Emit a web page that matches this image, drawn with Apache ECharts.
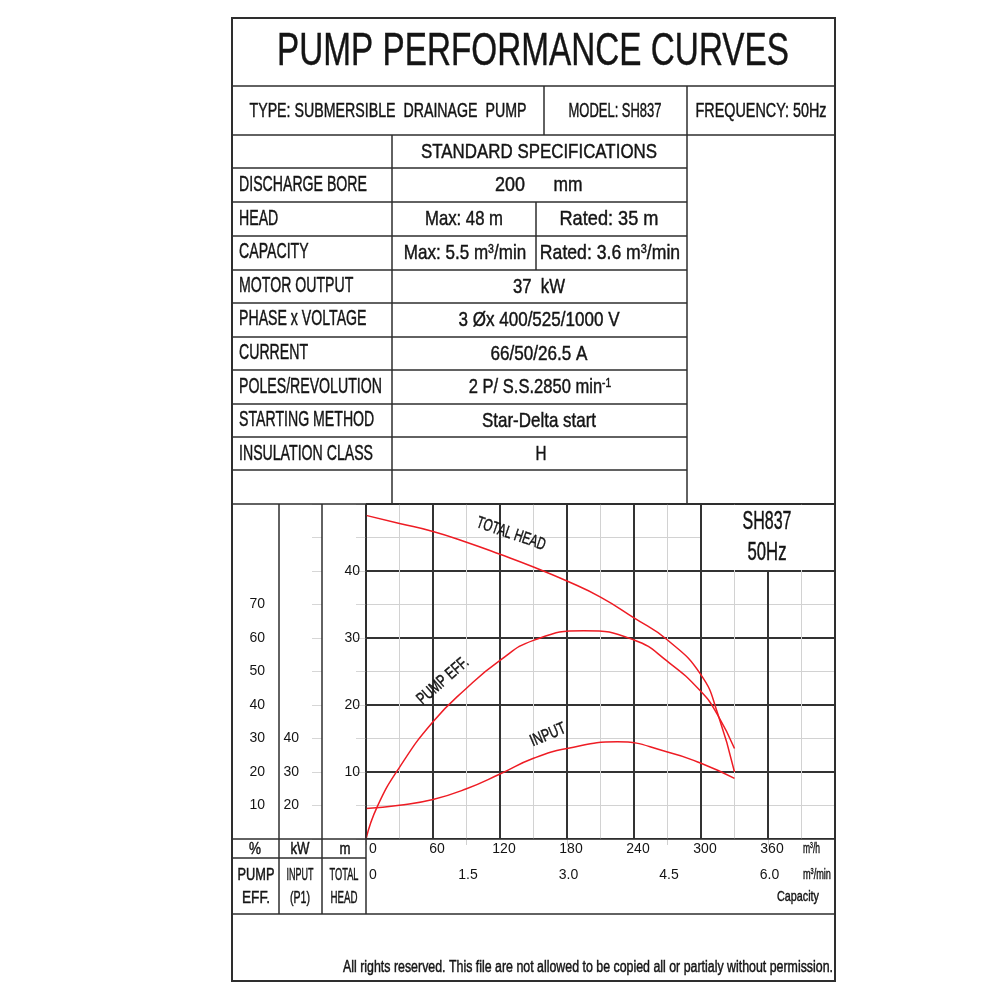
<!DOCTYPE html>
<html lang="en">
<head>
    <meta charset="UTF-8">
    <title>PUMP PERFORMANCE CURVES</title>
    <style>
        body{margin:0;background:#fff;}
        #main{width:1000px;height:1000px;}
    </style>
</head>
<body>
<div id="main"></div>
<script src="https://cdn.jsdelivr.net/npm/echarts@6/dist/echarts.min.js"></script>
<script>
    const myChart = echarts.init(document.getElementById('main'));

    /* curve data (flow in m3/h) */
    const headFlow   = [0, 30, 60, 90, 120, 150, 180, 210, 240, 270, 300, 315, 330];
    const totalHead  = [48.3, 47.1, 45.9, 44.3, 42.5, 40.6, 38.5, 36.1, 33.0, 29.7, 24.5, 18.7, 10.0]; // m
    const effFlow    = [0, 10, 30, 60, 90, 120, 150, 195, 240, 270, 300, 315, 330];
    const pumpEff    = [0, 9.6, 21.4, 35.0, 45.0, 53.3, 59.3, 62.2, 59.4, 53.0, 44.0, 37.0, 27.0];   // %
    const inputFlow  = [0, 30, 60, 90, 120, 150, 180, 225, 270, 300, 330];
    const inputPower = [19.1, 20.1, 21.8, 25.0, 29.4, 34.1, 37.0, 39.0, 36.0, 32.6, 28.1];           // kW

    /* tick labels that are printed */
    const flowTicks = [0, 60, 120, 180, 240, 300, 360];
    const capTicks  = ['0', '1.5', '3.0', '4.5', '6.0'];
    const headTicks = [10, 20, 30, 40];
    const effTicks  = [10, 20, 30, 40, 50, 60, 70];
    const kwTicks   = [20, 30, 40];

    /* spec table */
    const specLabels = ['DISCHARGE BORE', 'HEAD', 'CAPACITY', 'MOTOR OUTPUT', 'PHASE x VOLTAGE',
        'CURRENT', 'POLES/REVOLUTION', 'STARTING METHOD', 'INSULATION CLASS'];

    const FONT = '"Liberation Sans", Arial, sans-serif';
    const INK = '#141414';
    const RULE = '#2e2e2e';
    const RED = '#ee1c24';

    // narrow the Arial-like face to the condensed look of the sheet
    const ctx = document.createElement('canvas').getContext('2d');
    function fit(plain, size, width) {
        ctx.font = size + 'px "Liberation Sans"';
        return width / ctx.measureText(plain).width;
    }

    function line(x1, y1, x2, y2, w, c) {
        return {type: 'line', z: 100, silent: true,
            shape: {x1: x1, y1: y1, x2: x2, y2: y2},
            style: {stroke: c || RULE, lineWidth: w || 1.5}};
    }
    // o: {w: target width, plain: text to measure, rot, sx}
    function txt(text, x, y, size, align, o) {
        o = o || {};
        const plain = o.plain || text;
        const sx = o.sx || (o.w ? fit(plain, size, o.w) : 0.72);
        const base = {fontFamily: FONT, fill: INK, stroke: INK, lineWidth: 0.45};
        return {type: 'text', z: 110, silent: true, x: x, y: y, rotation: o.rot || 0, scaleX: sx,
            style: Object.assign({text: text, fontSize: size,
                textAlign: align || 'center', textVerticalAlign: 'middle',
                rich: {
                    n: Object.assign({fontSize: size}, base),
                    s: Object.assign({fontSize: Math.round(size * 0.6), verticalAlign: 'top'}, base)
                }}, base)};
    }

    const g = [];
    // outer frame and big rules
    g.push({type: 'rect', z: 99, silent: true, shape: {x: 232, y: 18, width: 603, height: 963},
        style: {fill: 'none', stroke: RULE, lineWidth: 2}});
    [86, 135, 504, 839, 914].forEach(y => g.push(line(232, y, 835, y)));
    g.push(line(544, 86, 544, 135), line(687, 86, 687, 135));
    // spec table rules
    [168, 202, 236, 270, 303, 337, 370, 404, 437, 470].forEach(y => g.push(line(232, y, 687, y)));
    g.push(line(392, 135, 392, 504), line(687, 135, 687, 504), line(536, 202, 536, 270));
    // chart side columns
    [279, 322, 366].forEach(x => g.push(line(x, 504, x, 914)));
    g.push(line(232, 858, 366, 858));
    // model box (covers grid)
    g.push({type: 'rect', z: 95, silent: true, shape: {x: 702, y: 505, width: 132, height: 65},
        style: {fill: '#fff'}});

    // header texts
    g.push(txt('PUMP PERFORMANCE CURVES', 533, 52, 46, 'center', {w: 512}));
    g.push(txt('TYPE: SUBMERSIBLE  DRAINAGE  PUMP', 388, 111, 20, 'center', {w: 277}));
    g.push(txt('MODEL: SH837', 615, 111, 20, 'center', {w: 93}));
    g.push(txt('FREQUENCY: 50Hz', 761, 111, 20, 'center', {w: 131}));
    g.push(txt('STANDARD SPECIFICATIONS', 539, 152, 21, 'center', {w: 236}));

    const labelScale = fit('DISCHARGE BORE', 22, 128);
    specLabels.forEach((s, i) => g.push(txt(s, 239, 185 + i * 33.6, 22, 'left', {sx: labelScale})));

    g.push(txt('200', 510, 185, 21, 'center', {w: 30}), txt('mm', 568, 185, 21, 'center', {w: 29}));
    g.push(txt('Max: 48 m', 464, 219, 21, 'center', {w: 78}));
    g.push(txt('Rated: 35 m', 609, 219, 21, 'center', {w: 99}));
    g.push(txt('{n|Max: 5.5 m}{s|3}{n|/min}', 465, 253, 21, 'center', {w: 126, plain: 'Max: 5.5 m3/min'}));
    g.push(txt('{n|Rated: 3.6 m}{s|3}{n|/min}', 610, 253, 21, 'center', {w: 144, plain: 'Rated: 3.6 m3/min'}));
    g.push(txt('37  kW', 539, 287, 21, 'center', {w: 52}));
    g.push(txt('3 Øx 400/525/1000 V', 539, 320, 21, 'center', {w: 161}));
    g.push(txt('66/50/26.5 A', 539, 354, 21, 'center', {w: 97}));
    g.push(txt('{n|2 P/ S.S.2850 min}{s|-1}', 540, 387, 21, 'center', {w: 148, plain: '2 P/ S.S.2850 min-1'}));
    g.push(txt('Star-Delta start', 539, 421, 21, 'center', {w: 114}));
    g.push(txt('H', 541, 454, 21, 'center', {w: 11}));

    // axis captions in the side columns
    g.push(txt('%', 255, 850, 16, 'center', {w: 12}));
    g.push(txt('kW', 300, 850, 16, 'center', {w: 19}));
    g.push(txt('m', 345, 850, 16, 'center', {w: 11}));
    g.push(txt('PUMP', 256, 875, 17, 'center', {w: 37}), txt('EFF.', 256, 898, 17, 'center', {w: 28}));
    g.push(txt('INPUT', 300, 875, 17, 'center', {w: 27}), txt('(P1)', 300, 898, 17, 'center', {w: 20}));
    g.push(txt('TOTAL', 344, 875, 17, 'center', {w: 29}), txt('HEAD', 344, 898, 17, 'center', {w: 27}));
    g.push(txt('{n|m}{s|3}{n|/h}', 803, 849, 15, 'left', {w: 19, plain: 'm3/h'}));
    g.push(txt('{n|m}{s|3}{n|/min}', 803, 875, 15, 'left', {w: 30, plain: 'm3/min'}));
    g.push(txt('Capacity', 798, 897, 15, 'center', {w: 42}));

    // curve names and model box
    g.push(txt('TOTAL HEAD', 511, 534, 17, 'center', {w: 72, rot: -0.33}));
    g.push(txt('PUMP EFF.', 443, 681, 17, 'center', {w: 63, rot: 0.72}));
    g.push(txt('INPUT', 548, 735, 17, 'center', {w: 37, rot: 0.40}));
    g.push(txt('SH837', 767, 522, 25, 'center', {w: 49}), txt('50Hz', 767, 553, 25, 'center', {w: 39}));

    g.push(txt('All rights reserved. This file are not allowed to be copied all or partialy without permission.',
        833, 968, 16, 'right', {w: 490}));

    const labelStyle = {fontSize: 14, fontFamily: FONT, color: INK};
    const major = {show: true, lineStyle: {color: '#333', width: 2}};
    const minor = {show: true, lineStyle: {color: '#d2d2d2', width: 1}};

    const option = {
        animation: false,
        grid: {left: 366, top: 504, width: 469, height: 335, containLabel: false},
        graphic: {elements: g},
        xAxis: [
            {
                type: 'value', min: 0, max: 420, interval: 60, position: 'bottom',
                axisLine: {show: false}, axisTick: {show: false},
                splitLine: major, minorTick: {show: false, splitNumber: 2}, minorSplitLine: minor,
                axisLabel: Object.assign({}, labelStyle, {
                    margin: 3, showMinLabel: true, showMaxLabel: true,
                    formatter: v => flowTicks.includes(v) ? (v === 0 ? '{z|0}' : '{n|' + v + '}') : '',
                    rich: {
                        z: Object.assign({padding: [0, 0, 0, 14]}, labelStyle),
                        n: Object.assign({padding: [0, 0, 0, 8]}, labelStyle)
                    }
                })
            },
            {
                type: 'value', min: 0, max: 7, interval: 1.5, position: 'bottom', offset: 19,
                axisLine: {show: true, lineStyle: {color: '#d5d5d5', width: 1}},
                axisTick: {show: true, length: 6, lineStyle: {color: '#d0d0d0'}},
                splitLine: {show: false},
                axisLabel: Object.assign({}, labelStyle, {
                    margin: 10, showMinLabel: true, showMaxLabel: true,
                    formatter: v => {
                        const s = v === 0 ? '0' : v.toFixed(1);
                        if (!capTicks.includes(s)) return '';
                        return v === 0 ? '{z|0}' : '{n|' + s + '}';
                    },
                    rich: {
                        z: Object.assign({padding: [0, 0, 0, 14]}, labelStyle),
                        n: Object.assign({padding: [0, 0, 0, 3]}, labelStyle)
                    }
                })
            }
        ],
        yAxis: [
            {
                type: 'value', min: 0, max: 50, interval: 10, position: 'left', offset: 0,
                axisLine: {show: false}, axisTick: {show: false},
                splitLine: major, minorTick: {show: false, splitNumber: 2}, minorSplitLine: minor,
                axisLabel: Object.assign({}, labelStyle, {margin: 6,
                    formatter: v => headTicks.includes(v) ? String(v) : ''})
            },
            {
                type: 'value', min: 0, max: 100, interval: 10, position: 'left', offset: 87,
                axisLine: {show: false}, splitLine: {show: false},
                axisTick: {show: true, length: 10, lineStyle: {color: '#d6d6d6'}},
                axisLabel: Object.assign({}, labelStyle, {margin: 14,
                    formatter: v => effTicks.includes(v) ? String(v) : ''})
            },
            {
                type: 'value', min: 10, max: 110, interval: 10, position: 'left', offset: 44,
                axisLine: {show: false}, splitLine: {show: false},
                axisTick: {show: true, length: 10, lineStyle: {color: '#d6d6d6'}},
                axisLabel: Object.assign({}, labelStyle, {margin: 23,
                    formatter: v => kwTicks.includes(v) ? String(v) : ''})
            }
        ],
        series: [
            {name: 'TOTAL HEAD', type: 'line', xAxisIndex: 0, yAxisIndex: 0, smooth: 0.5, symbol: 'none',
                lineStyle: {color: RED, width: 1.5}, data: headFlow.map((q, i) => [q, totalHead[i]])},
            {name: 'PUMP EFF.', type: 'line', xAxisIndex: 0, yAxisIndex: 1, smooth: 0.5, symbol: 'none',
                lineStyle: {color: RED, width: 1.5}, data: effFlow.map((q, i) => [q, pumpEff[i]])},
            {name: 'INPUT', type: 'line', xAxisIndex: 0, yAxisIndex: 2, smooth: 0.5, symbol: 'none',
                lineStyle: {color: RED, width: 1.5}, data: inputFlow.map((q, i) => [q, inputPower[i]])}
        ]
    };

    myChart.setOption(option);
</script>
</body>
</html>
